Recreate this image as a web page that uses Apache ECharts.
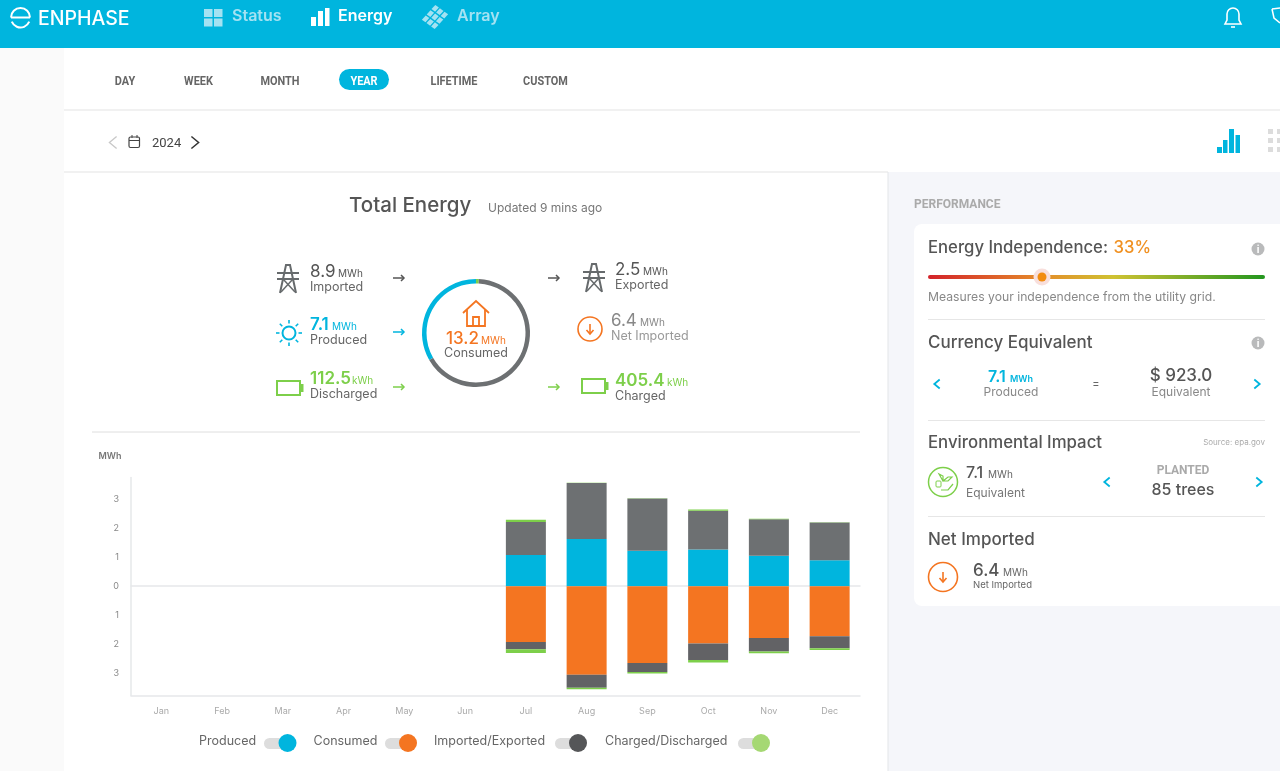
<!DOCTYPE html>
<html>
<head>
<meta charset="utf-8">
<title>Total Energy</title>
<style>
  html, body { margin: 0; padding: 0; background: #fff; }
  #chart { width: 1280px; height: 771px; }
</style>
</head>
<body>
<div id="chart"></div>
<script src="https://cdn.jsdelivr.net/npm/echarts@6/dist/echarts.min.js"></script>
<script>
// values, MWh
const months = ['Jan', 'Feb', 'Mar', 'Apr', 'May', 'Jun', 'Jul', 'Aug', 'Sep', 'Oct', 'Nov', 'Dec'];
const produced = [null, null, null, null, null, null, 1.08, 1.63, 1.23, 1.27, 1.05, 0.90];
const exported = [null, null, null, null, null, null, 1.14, 1.94, 1.80, 1.34, 1.27, 1.30];
const charged = [null, null, null, null, null, null, 0.08, 0.01, 0.01, 0.04, 0.01, 0.01];
const consumed = [null, null, null, null, null, null, -1.93, -3.06, -2.66, -1.98, -1.79, -1.73];
const imported = [null, null, null, null, null, null, -0.25, -0.45, -0.31, -0.57, -0.47, -0.42];
const discharged = [null, null, null, null, null, null, -0.13, -0.05, -0.05, -0.09, -0.06, -0.06];
const yTicks = [-3, -2, -1, 0, 1, 2, 3];

// donut around the house icon, shares of consumption
const donutNames = ['Discharged', 'Imported', 'Produced'];
const donutValues = [0.1125, 8.9, 4.5];

const BLUE = '#00b5de';
const ORANGE = '#f47521';
const GREEN = '#7dcf4a';
const GRAY = '#6d7072';
const DARK = '#626265';
const SANS = 'Inter, sans-serif';
const COND = 'Roboto, sans-serif';

const els = [];

function txt(text, x, y, size, fill, opt) {
  opt = opt || {};
  els.push({
    type: 'text', x: x, y: y + 0.8, silent: true, scaleX: opt.scaleX || 1,
    style: {
      text: text, fill: fill,
      font: (opt.weight || 400) + ' ' + size + 'px ' + (opt.family || SANS),
      textAlign: opt.align || 'left', textVerticalAlign: 'middle'
    }
  });
}
function line(x1, y1, x2, y2, stroke, w) {
  els.push({ type: 'line', silent: true, shape: { x1: x1, y1: y1, x2: x2, y2: y2 }, style: { stroke: stroke, lineWidth: w || 1 } });
}
function poly(points, stroke, w) {
  els.push({ type: 'polyline', silent: true, shape: { points: points }, style: { stroke: stroke, lineWidth: w || 1, fill: null } });
}
function box(x, y, w, h, fill, r) {
  els.push({ type: 'rect', silent: true, shape: { x: x, y: y, width: w, height: h, r: r || 0 }, style: { fill: fill } });
}
function outline(x, y, w, h, stroke, lw, r) {
  els.push({ type: 'rect', silent: true, shape: { x: x, y: y, width: w, height: h, r: r || 0 }, style: { fill: null, stroke: stroke, lineWidth: lw } });
}
function dot(x, y, r, fill) {
  els.push({ type: 'circle', silent: true, shape: { cx: x, cy: y, r: r }, style: { fill: fill } });
}
function ringIcon(x, y, r, stroke, lw) {
  els.push({ type: 'circle', silent: true, shape: { cx: x, cy: y, r: r }, style: { fill: null, stroke: stroke, lineWidth: lw } });
}
function arc(cx, cy, r, a0, a1, stroke, lw) {
  els.push({ type: 'arc', silent: true, shape: { cx: cx, cy: cy, r: r, startAngle: a0, endAngle: a1 }, style: { stroke: stroke, lineWidth: lw, fill: null } });
}
function arrowRight(x1, x2, y, c) {
  line(x1, y, x2, y, c, 1.5);
  poly([[x2 - 3, y - 3], [x2, y], [x2 - 3, y + 3]], c, 1.5);
}
function downCircle(x, y, r, lw) {
  ringIcon(x, y, r, ORANGE, lw);
  line(x, y - 5, x, y + 4, ORANGE, 1.6);
  poly([[x - 3.5, y + 1], [x, y + 5], [x + 3.5, y + 1]], ORANGE, 1.6);
}
function tower(cx, cy) {
  const c = '#666a6c';
  poly([[cx - 8, cy + 14], [cx - 2, cy - 14], [cx + 2, cy - 14], [cx + 8, cy + 14]], c, 2);
  line(cx - 11, cy - 6, cx + 11, cy - 6, c, 2);
  line(cx - 11, cy, cx + 11, cy, c, 2);
  poly([[cx - 5, cy], [cx + 7, cy + 13]], c, 1.5);
  poly([[cx + 5, cy], [cx - 7, cy + 13]], c, 1.5);
}
function battery(x, y, w, h) {
  outline(x, y, w - 3, h, GREEN, 2);
  box(x + w - 2, y + 3, 2.5, h - 6, GREEN);
}
function chevron(x, y, dir, c, s, lw) {
  poly([[x - dir * s * 0.6, y - s], [x + dir * s * 0.6, y], [x - dir * s * 0.6, y + s]], c, lw || 1.8);
}
function infoIcon(x, y) {
  dot(x, y, 6.5, '#b9babb');
  txt('i', x, y, 10, '#fff', { weight: 700, align: 'center' });
}

// page background, header
box(0, 48, 64, 723, '#fafafa');
box(888, 172, 392, 599, '#f5f6fa');
box(0, 0, 1280, 48, BLUE);
line(64, 110, 1280, 110, '#e3e3e3');
line(64, 172, 888, 172, '#e3e3e3');
line(888, 172, 888, 771, '#e3e5e8');

// logo
arc(20.5, 17.5, 9.5, Math.PI, 2 * Math.PI, '#fff', 2);
line(11, 17.5, 30, 17.5, '#fff', 2);
arc(20.5, 18, 9.5, 0.4, Math.PI - 0.4, '#fff', 2);
txt('ENPHASE', 38, 18, 19.5, '#fff', { weight: 500 });

// nav
const NAV_DIM = '#a4e2f2';
box(204, 9, 8.5, 8, NAV_DIM); box(214, 9, 8.5, 8, NAV_DIM);
box(204, 18.5, 8.5, 8, NAV_DIM); box(214, 18.5, 8.5, 8, NAV_DIM);
txt('Status', 232, 15.5, 16, NAV_DIM, { weight: 600 });
box(311, 17, 5, 9, '#fff'); box(318, 11, 5, 15, '#fff'); box(325, 8, 4.5, 18, '#fff');
txt('Energy', 338, 15.5, 16, '#fff', { weight: 600 });
[-1, 0, 1].forEach(function (i) {
  [-1, 0, 1].forEach(function (j) {
    const x = 435 + i * 4.8 + j * 4.6 - 3.7, y = 17 - i * 5.3 + j * 3.4 + 0.8;
    els.push({ type: 'polygon', silent: true, shape: { points: [[x, y], [x + 3.8, y - 4.2], [x + 7.4, y - 1.6], [x + 3.6, y + 2.6]] }, style: { fill: NAV_DIM } });
  });
});
txt('Array', 457, 15.5, 16, NAV_DIM, { weight: 600 });

// bell, cut-off tag at the right edge
arc(1233, 14, 6, Math.PI, 2 * Math.PI, '#fff', 1.6);
poly([[1227, 14], [1227, 20], [1225, 24], [1241, 24], [1239, 20], [1239, 14]], '#fff', 1.6);
line(1231, 27, 1235, 27, '#fff', 1.6);
poly([[1272, 9], [1280, 8]], '#fff', 1.5);
poly([[1272, 9], [1274, 18], [1280, 23]], '#fff', 1.5);

// range tabs
[['DAY', 125], ['WEEK', 198.5], ['MONTH', 280], ['LIFETIME', 454], ['CUSTOM', 545.5]].forEach(function (t) {
  txt(t[0], t[1], 80.5, 13, '#666', { weight: 700, family: COND, align: 'center', scaleX: 0.84 });
});
box(339, 69, 50, 21, BLUE, 10.5);
txt('YEAR', 364, 81, 13, '#fff', { weight: 700, family: COND, align: 'center', scaleX: 0.84 });

// date picker
chevron(113, 142.5, -1, '#c8c8c8', 6, 1.3);
outline(129, 137, 10.5, 10.5, '#444', 1.2, 1.5);
line(129, 140.5, 139.5, 140.5, '#444', 1);
line(132, 135, 132, 138, '#444', 1);
line(137, 135, 137, 138, '#444', 1);
txt('2024', 152, 142.5, 13, '#444', { family: COND });
chevron(195, 142.5, 1, '#333', 6, 1.5);

// chart/list toggle at the right
box(1217, 147, 5, 6, BLUE); box(1223, 140, 4.5, 13, BLUE); box(1229, 129, 5, 24, BLUE); box(1235.5, 135, 4.5, 18, BLUE);
[129, 138, 147].forEach(function (y) { box(1268, y, 5, 5, '#dcdcdc'); box(1277, y, 3, 5, '#dcdcdc'); });

// title
txt('Total Energy', 349, 205, 20.5, '#555', { weight: 500 });
txt('Updated 9 mins ago', 488, 208, 12, '#777');

// energy flow summary
function reading(x, y, value, unit, unitX, label, valueColor, labelColor, bold) {
  txt(value, x, y, 17, valueColor, { weight: bold ? 600 : 400 });
  txt(unit, unitX, y + 2, 10, valueColor);
  txt(label, x, y + 15, 12.5, labelColor);
}
tower(288, 279);
reading(310, 271, '8.9', 'MWh', 338, 'Imported', '#555', '#666');
arrowRight(393, 404, 278, '#555');

ringIcon(289, 333, 6.5, BLUE, 2);
[0, 1, 2, 3, 4, 5, 6, 7].forEach(function (i) {
  const a = i * Math.PI / 4;
  line(289 + 9.5 * Math.cos(a), 333 + 9.5 * Math.sin(a), 289 + 13 * Math.cos(a), 333 + 13 * Math.sin(a), BLUE, 1.6);
});
reading(310, 324.5, '7.1', 'MWh', 332, 'Produced', BLUE, '#666', true);
arrowRight(393, 404, 332, BLUE);

battery(277, 381, 26, 14);
reading(310, 378.5, '112.5', 'kWh', 352, 'Discharged', GREEN, '#666', true);
arrowRight(393, 404, 387, GREEN);

// house in the donut
poly([[463, 313], [476, 301], [489, 313]], ORANGE, 1.8);
poly([[467, 310], [467, 326], [485, 326], [485, 310]], ORANGE, 1.8);
poly([[473, 326], [473, 317], [479, 317], [479, 326]], ORANGE, 1.8);
txt('13.2', 446, 338, 17, ORANGE, { weight: 500 });
txt('MWh', 481, 340, 10, ORANGE);
txt('Consumed', 476, 352.5, 12.5, '#666', { align: 'center' });

arrowRight(548, 559, 278, '#555');
arrowRight(548, 559, 387, GREEN);

tower(594, 278);
reading(615, 269, '2.5', 'MWh', 643, 'Exported', '#555', '#666');
downCircle(590, 329, 12, 1.6);
reading(611, 320.5, '6.4', 'MWh', 640, 'Net Imported', '#888', '#999');
battery(582, 379, 26, 14);
reading(615, 380.5, '405.4', 'kWh', 667, 'Charged', GREEN, '#666', true);

line(92, 432, 860, 432, '#dedede');

// legend toggles
[['Produced', 199, 264, 287.5, BLUE], ['Consumed', 313.5, 385, 408, ORANGE],
 ['Imported/Exported', 434, 555, 578, '#555658'], ['Charged/Discharged', 605, 738, 761, '#a5d873']].forEach(function (l) {
  txt(l[0], l[1], 740.5, 12.5, '#666');
  box(l[2], 738, l[3] - l[2] + 4, 11, '#dddddd', 5.5);
  dot(l[3], 743, 9, l[4]);
});

// performance panel
txt('PERFORMANCE', 914, 204.5, 12, '#aaa', { weight: 700, family: COND });
box(914, 224, 380, 382, '#fff', 8);

txt('Energy Independence:', 928, 247, 16.7, '#555', { weight: 500 });
txt('33%', 1113.5, 247, 16.7, '#f09020', { weight: 500 });
infoIcon(1258, 249);
els.push({
  type: 'rect', silent: true, shape: { x: 928, y: 275, width: 337, height: 4, r: 2 },
  style: {
    fill: {
      type: 'linear', x: 0, y: 0, x2: 1, y2: 0,
      colorStops: [
        { offset: 0, color: '#d3222a' }, { offset: 0.33, color: '#e58a2a' },
        { offset: 0.55, color: '#cfc232' }, { offset: 1, color: '#23961f' }
      ]
    }
  }
});
dot(1042, 277, 8.5, '#f8dfdc');
dot(1042, 277, 4.5, '#f28c0f');
txt('Measures your independence from the utility grid.', 928, 296.5, 12.2, '#888');
line(928, 319.5, 1265, 319.5, '#e6e6e6');

txt('Currency Equivalent', 928, 342, 17, '#555', { weight: 500 });
infoIcon(1258, 343);
chevron(937, 384, -1, BLUE, 4.5);
txt('7.1', 988, 376.5, 16, BLUE, { weight: 600 });
txt('MWh', 1010, 378.5, 9, BLUE, { weight: 600 });
txt('Produced', 1011, 391.5, 12, '#888', { align: 'center' });
txt('=', 1096, 382.5, 11, '#666', { align: 'center' });
txt('$ 923.0', 1181, 375.5, 17, '#555', { weight: 500, align: 'center' });
txt('Equivalent', 1181, 391.5, 12, '#888', { align: 'center' });
chevron(1257, 384, 1, BLUE, 4.5);
line(928, 420.5, 1265, 420.5, '#e6e6e6');

txt('Environmental Impact', 928, 442, 16.8, '#555', { weight: 500 });
txt('Source: epa.gov', 1265, 441.5, 8, '#aaa', { align: 'right' });
ringIcon(943, 482, 14.5, GREEN, 1.5);
outline(936, 481, 5, 6, GREEN, 1, 1);
poly([[941, 490], [948, 490], [953, 484]], GREEN, 1.2);
poly([[943, 481], [943, 476], [939, 474], [943, 481], [948, 477], [952, 477], [948, 481], [943, 481]], GREEN, 1.2);
txt('7.1', 966, 472.5, 16, '#555', { weight: 500 });
txt('MWh', 988, 474.5, 10, '#666');
txt('Equivalent', 966, 492.5, 12, '#777');
chevron(1107, 482, -1, BLUE, 4.5);
txt('PLANTED', 1183, 470.5, 12, '#aaa', { weight: 700, family: COND, align: 'center' });
txt('85 trees', 1183, 489.5, 16, '#555', { weight: 500, align: 'center' });
chevron(1259, 482, 1, BLUE, 4.5);
line(928, 516.5, 1265, 516.5, '#e6e6e6');

txt('Net Imported', 928, 539, 17, '#555', { weight: 500 });
downCircle(943, 577, 14.5, 1.6);
txt('6.4', 973, 570, 17, '#555', { weight: 500 });
txt('MWh', 1003, 572.5, 10, '#666');
txt('Net Imported', 973, 584.5, 9.5, '#666');

const chart = echarts.init(document.getElementById('chart'));

function barSeries(name, values, color) {
  return {
    name: name, type: 'bar', stack: 'energy', barWidth: 40,
    data: values, itemStyle: { color: color }
  };
}

chart.setOption({
  animation: false,
  backgroundColor: '#fff',
  grid: { left: 131, top: 477.5, width: 729, height: 218 },
  xAxis: [
    {
      type: 'category', data: months,
      axisLine: { onZero: false, lineStyle: { color: '#e6e8ea', width: 1.5 } },
      axisTick: { show: false },
      axisLabel: { color: '#aaa', fontSize: 9, fontFamily: SANS, margin: 11 }
    },
    {
      // zero line across the plot
      type: 'category', data: months, position: 'bottom',
      axisLine: { onZero: true, lineStyle: { color: '#e6e8ea', width: 1.5 } },
      axisTick: { show: false }, axisLabel: { show: false }
    }
  ],
  yAxis: {
    type: 'value', min: -3.78, max: 3.76,
    name: 'MWh', nameLocation: 'end', nameGap: 17,
    nameTextStyle: { color: '#777', fontSize: 9, fontWeight: 600, fontFamily: SANS, padding: [0, 42, 0, 0] },
    axisLine: { show: true, lineStyle: { color: '#e6e8ea', width: 1.5 } },
    axisTick: { show: false },
    splitLine: { show: false },
    axisLabel: {
      customValues: yTicks, color: '#888', fontSize: 9, fontFamily: SANS, margin: 12,
      formatter: function (v) { return String(Math.abs(v)); }
    }
  },
  series: [
    barSeries('Produced', produced, BLUE),
    barSeries('Exported', exported, GRAY),
    barSeries('Charged', charged, GREEN),
    barSeries('Consumed', consumed, ORANGE),
    barSeries('Imported', imported, DARK),
    barSeries('Discharged', discharged, GREEN),
    {
      type: 'pie', center: [476, 333], radius: [49.5, 54], startAngle: 90, silent: true,
      label: { show: false }, labelLine: { show: false },
      data: donutNames.map(function (n, i) {
        return { name: n, value: donutValues[i], itemStyle: { color: [GREEN, GRAY, BLUE][i] } };
      })
    }
  ],
  graphic: { elements: els }
});
</script>
</body>
</html>
